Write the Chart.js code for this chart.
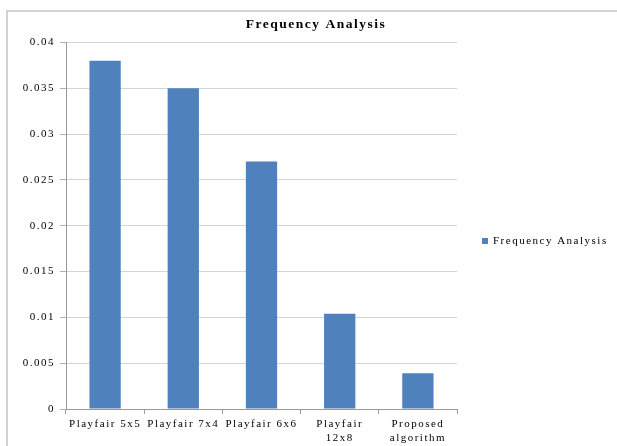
<!DOCTYPE html>
<html>
<head>
<meta charset="utf-8">
<script src="https://cdn.jsdelivr.net/npm/chart.js@4.4.1/dist/chart.umd.min.js"></script>
<style>
  html, body { margin: 0; padding: 0; background: #fff; overflow: hidden; }
  canvas { display: block; }
</style>
</head>
<body>
<canvas id="c" width="617" height="446"></canvas>
<script>
const chartTitle = "Frequency Analysis";
const seriesName = "Frequency Analysis";
const categories = [
  "Playfair 5x5",
  "Playfair 7x4",
  "Playfair 6x6",
  ["Playfair", "12x8"],
  ["Proposed", "algorithm"]
];
const values = [0.038, 0.035, 0.027, 0.0104, 0.0039];
const yMin = 0;
const yMax = 0.04;
const yStep = 0.005;

const FONT = '"Liberation Serif", "Times New Roman", serif';
const BAR = '#4F81BD';
const TEXT = '#000';

const spacingPlugin = {
  id: 'spacing',
  beforeUpdate(chart) { chart.ctx.letterSpacing = '1.5px'; },
  beforeDraw(chart) {
    const ctx = chart.ctx;
    ctx.letterSpacing = '1.5px';
    // outer frame: top and left edges only
    ctx.save();
    ctx.strokeStyle = '#d3d3d3';
    ctx.lineWidth = 2;
    ctx.beginPath();
    ctx.moveTo(617, 11);
    ctx.lineTo(7, 11);
    ctx.lineTo(7, 446);
    ctx.stroke();
    ctx.restore();
  }
};

const decorPlugin = {
  id: 'decor',
  afterDraw(chart) {
    const ctx = chart.ctx;
    ctx.save();
    ctx.letterSpacing = '1.5px';
    // title
    ctx.fillStyle = TEXT;
    ctx.font = 'bold 13.5px ' + FONT;
    ctx.textAlign = 'center';
    ctx.textBaseline = 'middle';
    ctx.fillText(chartTitle, 316, 25);
    // legend
    const ds = chart.data.datasets[0];
    ctx.fillStyle = ds.backgroundColor;
    ctx.fillRect(482, 238, 6, 6);
    ctx.fillStyle = TEXT;
    ctx.font = '11px ' + FONT;
    ctx.textAlign = 'left';
    ctx.fillText(ds.label, 493, 241.5);
    ctx.restore();
  }
};

new Chart(document.getElementById('c'), {
  type: 'bar',
  data: {
    labels: categories,
    datasets: [{
      label: seriesName,
      data: values,
      backgroundColor: BAR,
      borderWidth: 0,
      categoryPercentage: 1.0,
      barPercentage: 0.4
    }]
  },
  options: {
    responsive: false,
    animation: false,
    devicePixelRatio: 1,
    layout: { padding: { top: 42.5, right: 160, bottom: 0, left: 0 } },
    plugins: {
      legend: { display: false },
      title: { display: false },
      tooltip: { enabled: false }
    },
    scales: {
      x: {
        offset: true,
        grid: {
          offset: true,
          drawOnChartArea: false,
          drawTicks: true,
          tickLength: 5,
          color: '#9a9a9a'
        },
        border: { display: true, color: '#9a9a9a', width: 1 },
        ticks: {
          color: TEXT,
          font: { family: FONT, size: 11 },
          padding: 4,
          maxRotation: 0,
          autoSkip: false
        },
        afterFit(scale) { scale.height = 37; }
      },
      y: {
        min: yMin,
        max: yMax,
        grid: {
          color: '#d4d4d4',
          drawTicks: true,
          tickLength: 6,
          tickColor: '#b0b0b0'
        },
        border: { display: true, color: '#9a9a9a', width: 1 },
        ticks: {
          stepSize: yStep,
          color: TEXT,
          font: { family: FONT, size: 11 },
          padding: 5,
          callback: (v) => String(+Number(v).toFixed(3))
        },
        afterFit(scale) { scale.width = 66; }
      }
    }
  },
  plugins: [spacingPlugin, decorPlugin]
});
</script>
</body>
</html>
